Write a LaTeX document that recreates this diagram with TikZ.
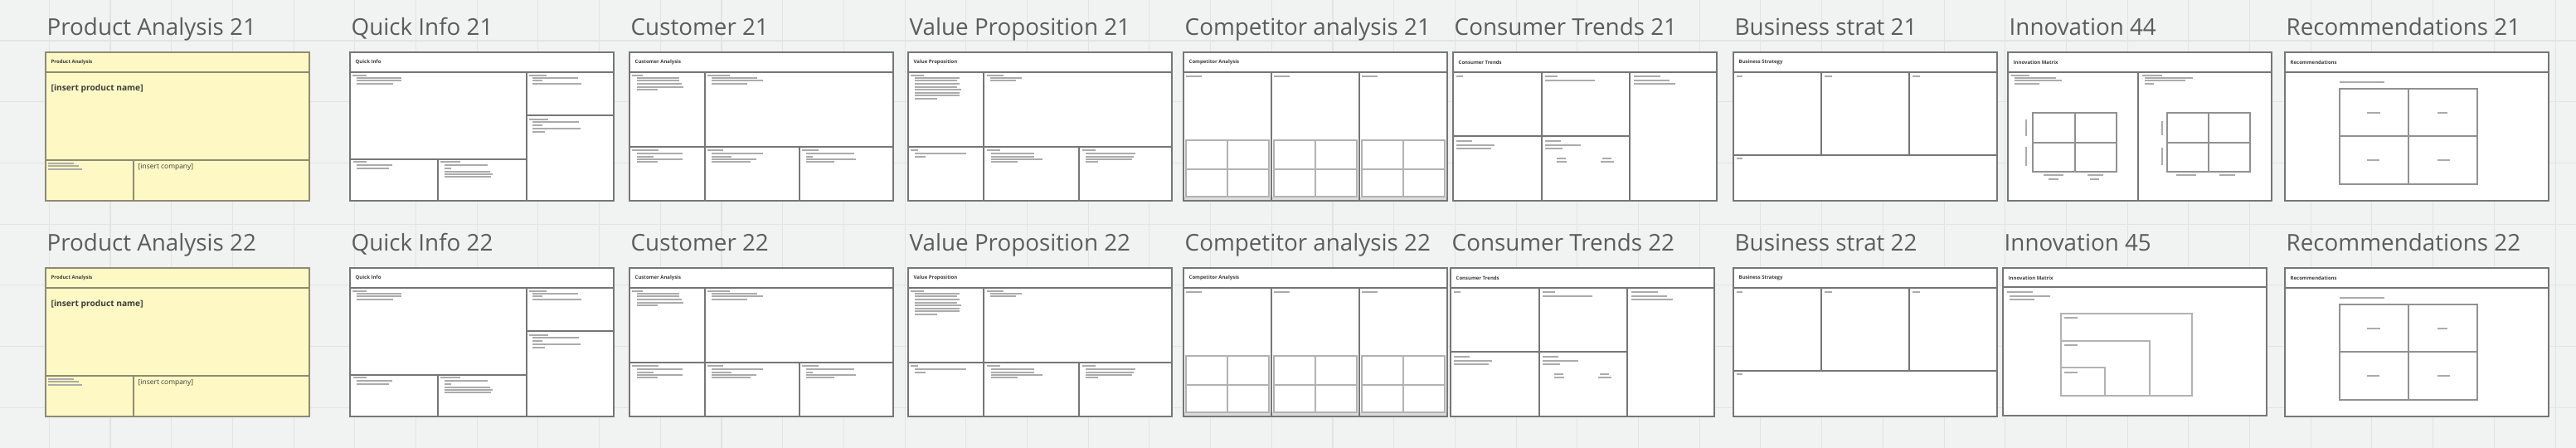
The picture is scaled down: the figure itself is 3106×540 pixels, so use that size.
\documentclass[tikz,border=0pt]{standalone}
\usepackage{fontspec}
\setmainfont{Open Sans}
\usepackage{xcolor}
\usepackage{tikz}
\usetikzlibrary{positioning}

\definecolor{boardbg}{HTML}{F1F2F2}
\definecolor{gridcol}{HTML}{E2E4E4}
\definecolor{framecol}{HTML}{767676}
\definecolor{lightcol}{HTML}{B2B2B2}
\definecolor{barcol}{HTML}{ABABAB}
\definecolor{stripcol}{HTML}{DCDCDC}
\definecolor{titlecol}{HTML}{5C5C5C}
\definecolor{darkcol}{HTML}{3C3C3C}
\definecolor{stickyyellow}{HTML}{FEF9C4}
\definecolor{olivegrey}{HTML}{8E8B72}

\tikzset{
  gridline/.style={draw=gridcol, line width=0.3pt},
  tplframe/.style={draw=framecol, line width=0.6pt, fill=white},
  yellowframe/.style={tplframe, draw=olivegrey, fill=stickyyellow},
  headline/.style={draw=framecol, line width=0.75pt},
  divider/.style={draw=framecol, line width=0.5pt},
  subgrid/.style={draw=lightcol, line width=0.4pt},
  textbar/.style={draw=barcol, line width=0.4pt},
  boardtitle/.style={anchor=base west, inner sep=0pt, text=titlecol, font=\fontsize{7.9}{9}\selectfont},
  headlabel/.style={anchor=west, inner sep=0pt, text=darkcol, font=\fontsize{1.7}{2}\selectfont\bfseries},
  bigslot/.style={anchor=west, inner sep=0pt, text=darkcol, font=\fontsize{2.9}{3.4}\selectfont\bfseries},
  slot/.style={anchor=west, inner sep=0pt, text=darkcol, font=\fontsize{2.4}{2.8}\selectfont},
}

\begin{document}
\begin{tikzpicture}[x=0.01cm, y=-0.01cm]
  \useasboundingbox (0,0) rectangle (3106,540);
  \fill[boardbg] (0,0) rectangle (3106,540);
  % board grid
  \foreach \gx in {0,...,41} \draw[gridline] ({59.3+73.7*\gx},0) -- ({59.3+73.7*\gx},540);
  \foreach \gy in {0,...,6} \draw[gridline] (0,{49+73.7*\gy}) -- (3106,{49+73.7*\gy});

  % both rows share the same templates (frames are 318 wide, coordinates local to each frame)
  \foreach \r/\n/\ctx in {0/21/1752, 260/22/1749} {
    % Product Analysis
    \begin{scope}[shift={(55,\r)}]
      \node[boardtitle] (pa-\n) at (1,43) {Product Analysis \n};
      \draw[yellowframe] (0,63) rectangle (318,242);
      \draw[headline, draw=olivegrey] (0,87) -- (318,87);
      \draw[divider, draw=olivegrey] (0,193) -- (318,193) (106,193) -- (106,242);
      \node[headlabel] (pa-head-\n) at (6,75) {Product Analysis};
      \node[bigslot] (pa-name-\n) at (6,107) {[insert product name]};
      \node[slot] (pa-comp-\n) at (111,201) {[insert company]};
      \draw[textbar] (3,197) -- +(31,0) (3,200) -- +(37,0) (3,204) -- +(41,0);
    \end{scope}

    % Quick Info
    \begin{scope}[shift={(422,\r)}]
      \node[boardtitle] (qi-\n) at (1,43) {Quick Info \n};
      \draw[tplframe] (0,63) rectangle (318,242);
      \draw[headline] (0,87) -- (318,87);
      \draw[divider] (213,87) -- (213,242) (213,139) -- (318,139) (0,192) -- (213,192) (106,192) -- (106,242);
      \node[headlabel] (qi-head-\n) at (6,75) {Quick Info};
      \draw[textbar] (3,91) -- +(17,0) (8,94) -- +(54,0) (8,97) -- +(54,0) (8,101) -- +(44,0)
        (216,91) -- +(21,0) (220,94) -- +(55,0) (220,97) -- +(12,0) (220,101) -- +(59,0)
        (216,144) -- +(23,0) (220,147) -- +(56,0) (220,151) -- +(12,0) (220,155) -- +(58,0) (220,159) -- +(15,0)
        (4,195) -- +(16,0) (8,199) -- +(43,0) (8,203) -- +(39,0)
        (109,195) -- +(24,0) (114,199) -- +(52,0) (114,203) -- +(8,0) (114,207) -- +(55,0) (114,210) -- +(58,0) (114,213) -- +(56,0);
    \end{scope}

    % Customer
    \begin{scope}[shift={(759,\r)}]
      \node[boardtitle] (cu-\n) at (1,43) {Customer \n};
      \draw[tplframe] (0,63) rectangle (318,242);
      \draw[headline] (0,87) -- (318,87);
      \draw[divider] (91,87) -- (91,242) (0,177) -- (318,177) (205,177) -- (205,242);
      \node[headlabel] (cu-head-\n) at (6,75) {Customer Analysis};
      \draw[textbar] (3,91) -- +(13,0) (9,94) -- +(51,0) (9,97) -- +(51,0) (9,101) -- +(54,0) (9,105) -- +(56,0) (9,108) -- +(25,0)
        (94,91) -- +(27,0) (99,94) -- +(55,0) (99,97) -- +(62,0) (99,101) -- +(43,0)
        (3,181) -- +(32,0) (9,185) -- +(55,0) (9,189) -- +(20,0) (9,192) -- +(55,0) (9,195) -- +(25,0)
        (94,181) -- +(19,0) (99,185) -- +(62,0) (99,189) -- +(24,0) (99,192) -- +(54,0) (99,195) -- +(47,0)
        (208,181) -- +(20,0) (213,185) -- +(58,0) (213,189) -- +(8,0) (213,192) -- +(60,0) (213,195) -- +(34,0);
    \end{scope}

    % Value Proposition
    \begin{scope}[shift={(1095,\r)}]
      \node[boardtitle] (vp-\n) at (1,43) {Value Proposition \n};
      \draw[tplframe] (0,63) rectangle (318,242);
      \draw[headline] (0,87) -- (318,87);
      \draw[divider] (91,87) -- (91,242) (0,177) -- (318,177) (206,177) -- (206,242);
      \node[headlabel] (vp-head-\n) at (6,75) {Value Proposition};
      \draw[textbar] (3,91) -- +(16,0) (8,94) -- +(54,0) (8,97) -- +(51,0) (8,101) -- +(54,0) (8,105) -- +(51,0)
        (8,108) -- +(56,0) (8,112) -- +(54,0) (8,115) -- +(54,0) (8,119) -- +(27,0)
        (95,91) -- +(20,0) (99,94) -- +(38,0) (99,97) -- +(31,0)
        (3,181) -- +(9,0) (8,185) -- +(62,0) (8,189) -- +(13,0)
        (95,181) -- +(16,0) (100,185) -- +(52,0) (100,189) -- +(52,0) (100,192) -- +(62,0) (100,195) -- +(32,0)
        (210,181) -- +(16,0) (214,185) -- +(60,0) (214,189) -- +(58,0) (214,192) -- +(56,0) (214,195) -- +(15,0);
    \end{scope}

    % Competitor analysis
    \begin{scope}[shift={(1427,\r)}]
      \node[boardtitle] (ca-\n) at (1,43) {Competitor analysis \n};
      \draw[tplframe] (0,63) rectangle (318,242);
      \fill[stripcol] (1,237) rectangle (317,241);
      \draw[headline] (0,87) -- (318,87);
      \draw[divider] (106,87) -- (106,242) (212,87) -- (212,242);
      \node[headlabel] (ca-head-\n) at (6,75) {Competitor Analysis};
      \foreach \cx in {0,106,212} {
        \draw[subgrid] (\cx+3,169) rectangle (\cx+103,237) (\cx+53,169) -- (\cx+53,237) (\cx+3,204) -- (\cx+103,204);
        \draw[textbar] (\cx+3,92) -- +(19,0);
      }
    \end{scope}

    % Consumer Trends
    \begin{scope}[shift={(\ctx,\r)}]
      \node[boardtitle] (ct-\n) at (1,43) {Consumer Trends \n};
      \draw[tplframe] (0,63) rectangle (318,242);
      \draw[headline] (0,87) -- (318,87);
      \draw[divider] (107,87) -- (107,242) (213,87) -- (213,242) (0,164) -- (213,164);
      \node[headlabel] (ct-head-\n) at (6,75) {Consumer Trends};
      \draw[textbar] (4,92) -- +(8,0) (111,92) -- +(15,0) (111,97) -- +(60,0)
        (218,92) -- +(32,0) (218,97) -- +(43,0) (218,101) -- +(50,0)
        (4,170) -- +(19,0) (4,175) -- +(46,0) (4,179) -- +(42,0)
        (111,170) -- +(19,0) (111,175) -- +(43,0) (111,179) -- +(21,0)
        (125,191) -- +(11,0) (125,195) -- +(12,0) (180,191) -- +(11,0) (178,195) -- +(16,0);
    \end{scope}

    % Business strat
    \begin{scope}[shift={(2090,\r)}]
      \node[boardtitle] (bs-\n) at (1,43) {Business strat \n};
      \draw[tplframe] (0,63) rectangle (318,242);
      \draw[headline] (0,87) -- (318,87);
      \draw[divider] (106,87) -- (106,187) (212,87) -- (212,187) (0,187) -- (318,187);
      \node[headlabel] (bs-head-\n) at (6,75) {Business Strategy};
      \draw[textbar] (4,92) -- +(7,0) (110,92) -- +(9,0) (216,92) -- +(9,0) (4,191) -- +(7,0);
    \end{scope}

    % Recommendations
    \begin{scope}[shift={(2755,\r)}]
      \node[boardtitle] (re-\n) at (1,43) {Recommendations \n};
      \draw[tplframe] (0,63) rectangle (318,242);
      \draw[headline] (0,87) -- (318,87);
      \node[headlabel] (re-head-\n) at (6,75) {Recommendations};
      \draw[subgrid, draw=framecol!80] (66,107) rectangle (232,222) (149,107) -- (149,222) (66,164) -- (232,164);
      \draw[textbar, line width=0.5pt] (66,99) -- (120,99);
      \draw[textbar] (99,136) -- +(16,0) (184,136) -- +(12,0) (99,193) -- +(15,0) (184,193) -- +(15,0);
    \end{scope}
  }

  % Innovation 44
  \begin{scope}[shift={(2421,0)}]
    \node[boardtitle] (in-44) at (1,43) {Innovation 44};
    \draw[tplframe] (0,63) rectangle (318,242);
    \draw[headline] (0,87) -- (318,87);
    \draw[divider] (157,87) -- (157,242);
    \node[headlabel] (in-head-44) at (6,75) {Innovation Matrix};
    \draw[subgrid, draw=framecol!80] (30,136) rectangle (131,207) (81,136) -- (81,207) (30,172) -- (131,172);
    \draw[subgrid, draw=framecol!80] (192,136) rectangle (292,207) (242,136) -- (242,207) (192,172) -- (292,172);
    \draw[textbar] (4,91) -- +(22,0) (8,94) -- +(50,0) (8,97) -- +(57,0) (8,101) -- +(30,0)
      (162,91) -- +(24,0) (165,94) -- +(58,0) (165,97) -- +(49,0) (165,101) -- +(11,0)
      (22,144) -- (22,164) (22,177) -- (22,200) (43,211) -- +(24,0) (96,211) -- +(19,0) (49,216) -- +(12,0) (99,216) -- +(11,0)
      (186,146) -- (186,163) (186,178) -- (186,199) (203,211) -- +(24,0) (255,211) -- +(19,0);
  \end{scope}

  % Innovation 45
  \begin{scope}[shift={(2415,260)}]
    \node[boardtitle] (in-45) at (1,43) {Innovation 45};
    \draw[tplframe] (0,63) rectangle (318,241);
    \draw[headline] (0,86) -- (318,86);
    \node[headlabel] (in-head-45) at (6,75) {Innovation Matrix};
    \draw[subgrid] (70,118) rectangle (228,217) (70,151) rectangle (177,217) (70,183) rectangle (123,217);
    \draw[textbar] (5,92) -- +(31,0) (8,97) -- +(49,0) (8,101) -- +(30,0)
      (74,123) -- +(16,0) (74,156) -- +(16,0) (74,189) -- +(16,0);
  \end{scope}
\end{tikzpicture}
\end{document}
